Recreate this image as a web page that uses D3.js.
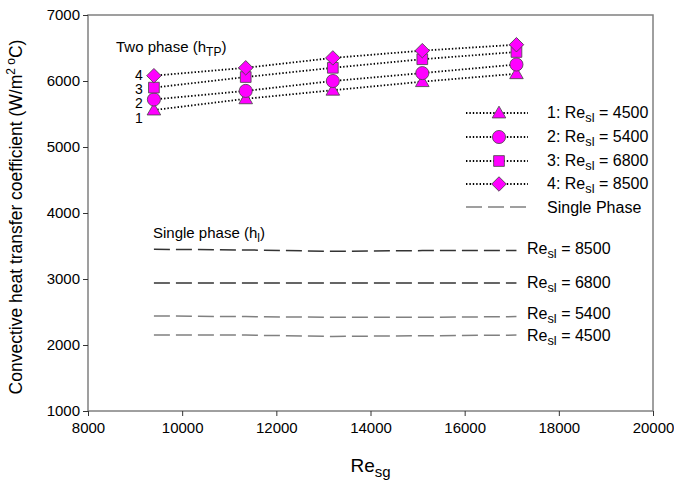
<!DOCTYPE html>
<html>
<head>
<meta charset="utf-8">
<script src="https://cdn.jsdelivr.net/npm/d3@7"></script>
<style>
  body { margin: 0; background: #fff; }
  text { font-family: "Liberation Sans", Arial, sans-serif; fill: #000; }
</style>
</head>
<body>
<script>
const reSg = [9400, 11350, 13200, 15100, 17100]
const reSl = [4500, 5400, 6800, 8500]
// two phase h_TP for each Re_sl
const hTP1 = [5560, 5730, 5860, 5990, 6110]
const hTP2 = [5720, 5850, 6000, 6120, 6250]
const hTP3 = [5900, 6060, 6200, 6330, 6440]
const hTP4 = [6080, 6200, 6350, 6460, 6550]
// single phase h_l
const hL1 = [2150, 2150, 2130, 2140, 2150]
const hL2 = [2440, 2430, 2420, 2420, 2430]
const hL3 = [2940, 2940, 2940, 2940, 2940]
const hL4 = [3450, 3440, 3420, 3430, 3430]
const xTicks = [8000, 10000, 12000, 14000, 16000, 18000, 20000]
const yTicks = [1000, 2000, 3000, 4000, 5000, 6000, 7000]

const W = 674, H = 485
const margin = {top: 15, left: 88, bottom: 74, right: 21}

const svg = d3.select('body').append('svg')
  .attr('width', W).attr('height', H)

const x = d3.scaleLinear().domain([8000, 20000]).range([margin.left, W - margin.right])
const y = d3.scaleLinear().domain([1000, 7000]).range([H - margin.bottom, margin.top])

// frame
svg.append('rect')
  .attr('x', x(8000)).attr('y', y(7000))
  .attr('width', x(20000) - x(8000)).attr('height', y(1000) - y(7000))
  .attr('fill', 'none').attr('stroke', '#808080').attr('stroke-width', 1.5)

const gX = svg.append('g')
  .attr('transform', `translate(0,${y(1000)})`)
  .call(d3.axisBottom(x).tickValues(xTicks).tickFormat(d3.format('d')).tickSizeOuter(0).tickSize(5).tickPadding(6))
const gY = svg.append('g')
  .attr('transform', `translate(${x(8000)},0)`)
  .call(d3.axisLeft(y).tickValues(yTicks).tickFormat(d3.format('d')).tickSizeOuter(0).tickSize(5).tickPadding(3))
;[gX, gY].forEach(g => {
  g.select('.domain').remove()
  g.selectAll('line').attr('stroke', '#333')
  g.selectAll('text').attr('font-size', 15).attr('fill', '#000')
    .style('font-family', '"Liberation Sans", Arial, sans-serif')
})

// single phase dashed lines
const single = [hL1, hL2, hL3, hL4]
const singleColor = ['#808080', '#808080', '#333', '#333']
const line = d3.line().x((d, i) => x(reSg[i])).y(d => y(d))
single.forEach((s, k) => {
  svg.append('path').datum(s)
    .attr('d', line)
    .attr('fill', 'none').attr('stroke', singleColor[k]).attr('stroke-width', 1.5)
    .attr('stroke-dasharray', '16,6')
})

// two phase dotted lines + markers
const two = [hTP1, hTP2, hTP3, hTP4]
const shapes = [
  d3.symbol().type(d3.symbolTriangle).size(80),
  d3.symbol().type(d3.symbolCircle).size(135),
  d3.symbol().type(d3.symbolSquare).size(115),
  d3.symbol().type(d3.symbolSquare).size(105)
]
const rot = [0, 0, 0, 45]
two.forEach((s, k) => {
  svg.append('path').datum(s)
    .attr('d', line)
    .attr('fill', 'none').attr('stroke', '#000').attr('stroke-width', 1.8)
    .attr('stroke-dasharray', '1.4,2')
})
two.forEach((s, k) => {
  svg.append('g').selectAll('path').data(s).join('path')
    .attr('d', shapes[k])
    .attr('transform', (d, i) => `translate(${x(reSg[i])},${y(d) + (k === 0 ? 1 : 0)}) rotate(${rot[k]})`)
    .attr('fill', '#ff00ff').attr('stroke', '#444').attr('stroke-width', 0.8)
})

// series numbers on the left
const numY = [118, 103, 89, 75]
reSl.forEach((r, k) => {
  svg.append('text').attr('x', 139).attr('y', numY[k] + 5)
    .attr('text-anchor', 'middle').attr('font-size', 14).text(k + 1)
})

// helper for Re_sl text
function reText(g, prefix, val, size) {
  const t = g.append('text').attr('font-size', size)
  t.append('tspan').text(prefix + 'Re')
  t.append('tspan').attr('font-size', size * 0.8).attr('dy', 4).text('sl')
  t.append('tspan').attr('dy', -4).text(' = ' + val)
  return t
}

// legend
const legY = [113, 137, 161, 184]
reSl.forEach((r, k) => {
  const g = svg.append('g')
  g.append('line').attr('x1', 466).attr('x2', 528).attr('y1', legY[k]).attr('y2', legY[k])
    .attr('stroke', '#000').attr('stroke-width', 1.8).attr('stroke-dasharray', '1.4,2')
  g.append('path').attr('d', shapes[k])
    .attr('transform', `translate(499,${legY[k] + (k === 0 ? 1 : 0)}) rotate(${rot[k]})`)
    .attr('fill', '#ff00ff').attr('stroke', '#444').attr('stroke-width', 0.8)
  reText(g, (k + 1) + ': ', r, 16).attr('x', 547).attr('y', legY[k] + 5)
})
svg.append('line').attr('x1', 466).attr('x2', 528).attr('y1', 207).attr('y2', 207)
  .attr('stroke', '#808080').attr('stroke-width', 1.5).attr('stroke-dasharray', '16,6')
svg.append('text').attr('x', 547).attr('y', 213).attr('font-size', 16).text('Single Phase')

// right labels of single phase lines
const rightY = [336, 314, 283, 249]
reSl.forEach((r, k) => {
  reText(svg, '', r, 16).attr('x', 527).attr('y', rightY[k] + 5)
})

// annotations
const tp = svg.append('text').attr('x', 116).attr('y', 52).attr('font-size', 15)
tp.append('tspan').text('Two phase (h')
tp.append('tspan').attr('font-size', 12).attr('dy', 4).text('TP')
tp.append('tspan').attr('dy', -4).text(')')
const sp = svg.append('text').attr('x', 153).attr('y', 238).attr('font-size', 15)
sp.append('tspan').text('Single phase (h')
sp.append('tspan').attr('font-size', 12).attr('dy', 4).text('l')
sp.append('tspan').attr('dy', -4).text(')')

// axis titles
const xt = svg.append('text').attr('x', x(14000)).attr('y', 472)
  .attr('text-anchor', 'middle').attr('font-size', 19)
xt.append('tspan').text('Re')
xt.append('tspan').attr('font-size', 15).attr('dy', 5).text('sg')

const yt = svg.append('text')
  .attr('transform', `translate(22,${(y(1000) + y(7000)) / 2 + 4}) rotate(-90)`)
  .attr('text-anchor', 'middle').attr('font-size', 17.5)
yt.append('tspan').text('Convective heat transfer coefficient (W/m')
yt.append('tspan').attr('font-size', 12).attr('dy', -7).text('2')
yt.append('tspan').attr('font-size', 12).attr('dy', 0).text(' o')
yt.append('tspan').attr('dy', 7).text('C)')
</script>
</body>
</html>
